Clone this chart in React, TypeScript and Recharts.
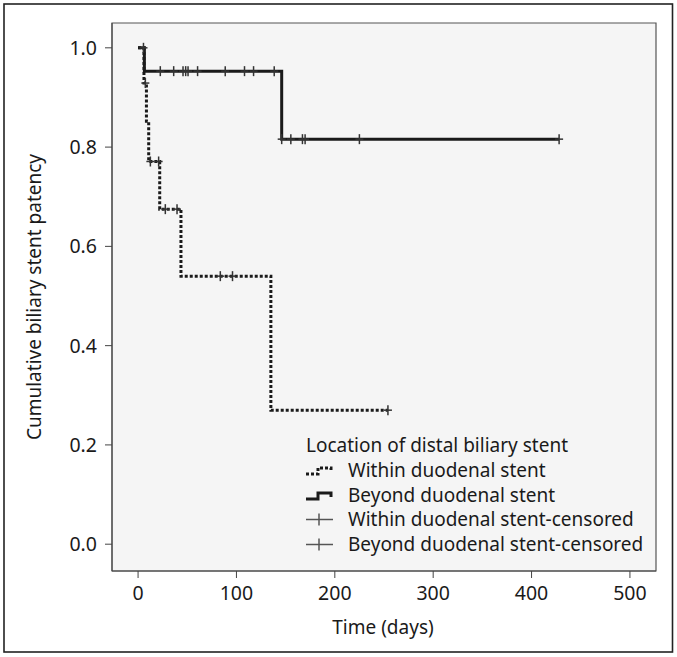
import React from 'react';
import { ComposedChart, Line, Scatter, XAxis, YAxis, ReferenceArea } from 'recharts';

// Kaplan-Meier steps (time in days, cumulative patency)
const withinSteps = [
  { x: 0, y: 1.0 },
  { x: 6, y: 0.929 },
  { x: 8.5, y: 0.852 },
  { x: 10.8, y: 0.771 },
  { x: 22, y: 0.675 },
  { x: 43.6, y: 0.54 },
  { x: 135, y: 0.27 },
  { x: 254, y: 0.27 },
];

const beyondSteps = [
  { x: 0, y: 1.0 },
  { x: 6.4, y: 0.953 },
  { x: 146, y: 0.816 },
  { x: 428, y: 0.816 },
];

const withinCensored = [
  { x: 7.4, y: 0.929 },
  { x: 12.5, y: 0.771 },
  { x: 20.9, y: 0.771 },
  { x: 27.7, y: 0.675 },
  { x: 39.6, y: 0.675 },
  { x: 83.6, y: 0.54 },
  { x: 96, y: 0.54 },
  { x: 254, y: 0.27 },
];

const beyondCensored = [
  { x: 5.5, y: 1.0 },
  { x: 22.6, y: 0.953 },
  { x: 36.2, y: 0.953 },
  { x: 45.7, y: 0.953 },
  { x: 48.4, y: 0.953 },
  { x: 50.8, y: 0.953 },
  { x: 60.5, y: 0.953 },
  { x: 88.6, y: 0.953 },
  { x: 108.2, y: 0.953 },
  { x: 117.4, y: 0.953 },
  { x: 138.4, y: 0.953 },
  { x: 146, y: 0.816 },
  { x: 155.3, y: 0.816 },
  { x: 167.1, y: 0.816 },
  { x: 169.8, y: 0.816 },
  { x: 225, y: 0.816 },
  { x: 428, y: 0.816 },
];

const xTicks = [0, 100, 200, 300, 400, 500];
const yTicks = [0, 0.2, 0.4, 0.6, 0.8, 1.0];

const legendTitle = 'Location of distal biliary stent';
const legendLabels = [
  'Within duodenal stent',
  'Beyond duodenal stent',
  'Within duodenal stent-censored',
  'Beyond duodenal stent-censored',
];

const X_DOMAIN: [number, number] = [-26.5, 526.5];
const Y_DOMAIN: [number, number] = [-0.054, 1.05];
const FONT = '"Noto Sans", sans-serif';
const INK = '#1a1a1a';

const Cross = (props: any) => {
  const { cx, cy } = props;
  if (cx == null || cy == null) return null;
  return (
    <g>
      <line x1={cx} x2={cx} y1={cy - 5} y2={cy + 5} stroke="#333" strokeWidth={1.5} />
      <line x1={cx - 4} x2={cx + 4} y1={cy} y2={cy} stroke="#333" strokeWidth={1.5} />
    </g>
  );
};

const LegendIcon = ({ index, y }: { index: number; y: number }) => {
  if (index === 0) {
    return (
      <path d={`M306,${y + 4} H318 V${y - 2} H331 V${y + 2}`} fill="none" stroke={INK}
        strokeWidth={3} strokeDasharray="3 2" />
    );
  }
  if (index === 1) {
    return (
      <path d={`M306,${y + 4} H318 V${y - 2} H331 V${y + 2}`} fill="none" stroke={INK} strokeWidth={3} />
    );
  }
  return (
    <g stroke="#555" strokeWidth={1.5}>
      <line x1={306} x2={333} y1={y} y2={y} />
      <line x1={319} x2={319} y1={y - 6} y2={y + 6} />
    </g>
  );
};

export default function App() {
  const rowY = [470, 495, 519.5, 544.5];
  return (
    <div style={{ position: 'absolute', left: 0, top: 0, width: 677, height: 657, background: '#fff' }}>
      <ComposedChart
        width={677}
        height={657}
        margin={{ top: 23, right: 21, bottom: 56, left: 42 }}
      >
        <XAxis
          dataKey="x"
          type="number"
          domain={X_DOMAIN}
          ticks={xTicks}
          allowDataOverflow
          height={30}
          stroke="#444"
          tickLine={{ stroke: '#444' }}
          tickSize={7}
          tick={{ fill: INK, fontSize: 19.5, fontFamily: FONT }}
          tickMargin={8}
        />
        <YAxis
          dataKey="y"
          type="number"
          domain={Y_DOMAIN}
          ticks={yTicks}
          allowDataOverflow
          width={70}
          stroke="#444"
          tickSize={7}
          tickFormatter={(v: number) => v.toFixed(1)}
          tick={{ fill: INK, fontSize: 19.5, fontFamily: FONT }}
          tickMargin={8}
        />
        <ReferenceArea
          x1={X_DOMAIN[0]}
          x2={X_DOMAIN[1]}
          y1={Y_DOMAIN[0]}
          y2={Y_DOMAIN[1]}
          fill="#f5f5f5"
          fillOpacity={1}
          stroke="#555"
          strokeWidth={1.2}
        />
        <Line
          data={withinSteps}
          dataKey="y"
          type="stepAfter"
          stroke={INK}
          strokeWidth={3}
          strokeDasharray="3 2"
          dot={false}
          isAnimationActive={false}
        />
        <Line
          data={beyondSteps}
          dataKey="y"
          type="stepAfter"
          stroke={INK}
          strokeWidth={3}
          dot={false}
          isAnimationActive={false}
        />
        <Scatter data={withinCensored} dataKey="y" shape={<Cross />} isAnimationActive={false} />
        <Scatter data={beyondCensored} dataKey="y" shape={<Cross />} isAnimationActive={false} />
      </ComposedChart>
      <svg width={677} height={657} style={{ position: 'absolute', left: 0, top: 0, pointerEvents: 'none' }}>
        <rect x={4} y={4} width={668.5} height={648} fill="none" stroke="#222" strokeWidth={1.6} />
        <text x={383} y={634} textAnchor="middle" fontSize={19} fontFamily={FONT} fill={INK}>Time (days)</text>
        <text x={0} y={0} transform="translate(41,297) rotate(-90)" textAnchor="middle" fontSize={19}
          fontFamily={FONT} fill={INK}>Cumulative biliary stent patency</text>
        <text x={306} y={451.5} fontSize={19} fontFamily={FONT} fill={INK}>{legendTitle}</text>
        {legendLabels.map((label, i) => (
          <g key={label}>
            <LegendIcon index={i} y={rowY[i]} />
            <text x={348} y={rowY[i] + 6.5} fontSize={19} fontFamily={FONT} fill={INK}>{label}</text>
          </g>
        ))}
      </svg>
    </div>
  );
}
